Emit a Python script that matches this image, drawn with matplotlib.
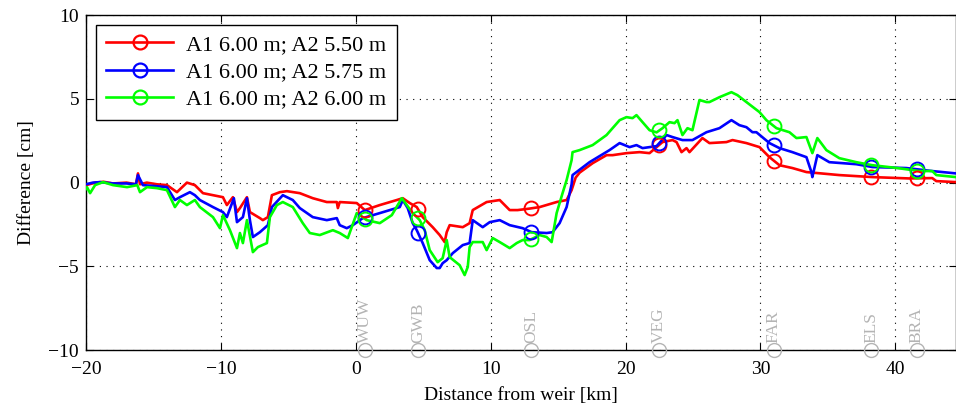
import numpy as np
import matplotlib
matplotlib.use("Agg")
import matplotlib.pyplot as plt

plt.rcParams['font.family'] = ['Liberation Serif', 'DejaVu Serif']

# ---- data (distance from weir [km], difference [cm]) ----
red_km = [-20.0, -19.3, -18.7, -18.0, -17.0, -16.3, -16.15, -16.0, -15.5, -14.74, -14.0, -13.26,
          -12.52, -11.93, -11.33, -10.59, -9.85, -9.56, -9.11, -8.81, -8.59, -8.07, -7.85, -7.11,
          -6.89, -6.52, -6.22, -5.63, -5.11, -4.15, -3.19, -2.15, -1.41, -1.33, -1.19, 0.07, 0.67,
          1.78, 3.04, 3.48, 4.0, 4.52, 4.96, 5.7, 6.22, 6.59, 6.74, 6.96, 7.93, 8.44, 8.67, 9.7,
          10.67, 11.41, 12.0, 12.89, 13.63, 14.89, 15.63, 16.0, 16.3, 16.6, 17.56, 18.59, 19.04,
          20.07, 21.04, 21.78, 22.74, 23.48, 23.78, 24.15, 24.52, 24.74, 25.7, 26.22, 27.48, 27.93,
          28.96, 29.93, 30.67, 31.41, 32.37, 33.41, 35.85, 38.3, 41.0, 42.74, 43.04, 44.5]
red_cm = [-0.15, 0.0, 0.05, -0.05, 0.0, -0.1, 0.55, -0.1, 0.0, -0.1, -0.15, -0.57,
          0.0, -0.15, -0.63, -0.75, -0.87, -1.34, -0.87, -1.76, -1.52, -0.87, -1.76, -2.12,
          -2.24, -2.06, -0.75, -0.57, -0.51, -0.63, -0.93, -1.16, -1.16, -1.52, -1.16, -1.22, -1.64,
          -1.34, -1.04, -0.93, -1.22, -1.46, -2.06, -2.66, -3.13, -3.55, -2.96, -2.54, -2.66, -2.42, -1.64, -1.16,
          -1.04, -1.64, -1.64, -1.55, -1.46, -1.16, -1.04, -0.45, 0.3, 0.6, 1.16, 1.64, 1.64,
          1.76, 1.82, 1.76, 2.42, 2.54, 2.42, 1.82, 2.06, 1.82, 2.66, 2.36, 2.42, 2.54,
          2.36, 2.12, 1.52, 1.04, 0.87, 0.63, 0.45, 0.33, 0.25, 0.27, 0.09, 0.03]

blue_km = [-20.0, -19.5, -18.96, -18.0, -17.0, -16.3, -16.15, -15.78, -15.0, -14.0, -13.41, -13.04,
           -12.3, -11.93, -11.56, -10.59, -9.85, -9.56, -9.04, -8.81, -8.37, -8.07, -7.85, -7.63,
           -7.11, -6.52, -6.22, -5.41, -4.67, -4.15, -3.19, -2.15, -1.41, -1.19, -0.67, -0.22, 0.52,
           1.78, 3.26, 3.48, 3.85, 4.22, 4.52, 4.96, 5.48, 6.0, 6.22, 6.44, 6.74, 7.19, 7.93, 8.44,
           8.67, 9.41, 9.93, 10.67, 11.41, 12.37, 13.04, 14.15, 14.59, 15.11, 15.63, 16.0, 16.07,
           17.33, 18.81, 19.56, 20.3, 20.81, 21.26, 22.3, 23.04, 23.48, 24.22, 24.96, 26.0, 26.96,
           27.85, 28.44, 28.96, 29.41, 29.7, 30.67, 31.41, 32.37, 33.41, 33.78, 33.85, 34.22, 35.11,
           37.11, 38.3, 40.81, 42.74, 44.5]
blue_cm = [-0.1, 0.0, 0.03, -0.05, -0.05, -0.1, 0.45, -0.15, -0.2, -0.27, -1.04, -0.87,
           -0.57, -0.75, -1.04, -1.46, -1.76, -2.06, -0.93, -2.36, -2.06, -0.93, -2.24, -3.25,
           -2.96, -2.54, -1.46, -0.75, -1.04, -1.52, -2.06, -2.24, -2.12, -2.54, -2.72, -2.54, -2.12,
           -1.82, -1.46, -1.04, -1.52, -2.42, -2.84, -3.61, -4.63, -5.10, -5.10, -4.81, -4.63, -4.21, -3.73, -3.61,
           -2.24, -2.66, -2.36, -2.24, -2.54, -2.72, -2.96, -3.01, -2.96, -2.42, -1.46, -0.1, 0.45,
           1.22, 1.94, 2.36, 2.12, 2.24, 2.06, 2.18, 2.84, 2.72, 2.54, 2.54, 3.01, 3.25,
           3.73, 3.43, 3.31, 3.01, 3.01, 2.36, 2.06, 1.82, 1.52, 0.63, 0.33, 1.64, 1.22,
           1.10, 0.93, 0.87, 0.69, 0.55]

green_km = [-20.07, -19.93, -19.7, -19.33, -18.74, -18.0, -16.96, -16.2, -16.0, -15.48, -14.74, -14.0,
            -13.41, -13.04, -12.52, -11.93, -11.56, -10.59, -10.07, -9.85, -9.33, -8.81, -8.59, -8.37,
            -8.07, -7.63, -7.26, -6.59, -6.37, -5.85, -5.41, -4.67, -3.93, -3.41, -2.67, -1.7, -1.19,
            -0.59, 0.07, 0.81, 1.78, 2.67, 3.41, 3.78, 4.22, 4.74, 5.11, 5.48, 6.07, 6.44, 6.74, 6.96,
            7.7, 8.07, 8.3, 8.44, 8.67, 9.41, 9.7, 10.15, 10.67, 11.41, 11.93, 12.37, 12.89, 13.63,
            14.15, 14.52, 14.89, 15.33, 15.63, 16.0, 16.07, 16.59, 17.56, 18.59, 19.56, 20.07, 20.52,
            20.81, 21.26, 21.78, 22.3, 22.74, 23.26, 23.63, 23.85, 24.22, 24.59, 24.96, 25.48, 26.0,
            26.22, 26.96, 27.85, 28.3, 28.96, 29.93, 30.44, 31.19, 32.15, 32.67, 33.41, 33.85, 34.22,
            34.89, 35.85, 37.11, 38.3, 40.15, 41.78, 42.74, 43.04, 44.5]
green_cm = [-0.45, -0.27, -0.63, -0.15, 0.03, -0.15, -0.27, -0.15, -0.57, -0.27, -0.33, -0.45,
            -1.46, -1.04, -1.34, -1.04, -1.46, -2.06, -2.72, -1.94, -2.84, -3.91, -3.01, -3.61,
            -2.24, -4.15, -3.85, -3.61, -2.06, -1.34, -1.16, -1.46, -2.42, -3.01, -3.13, -2.84, -3.01,
            -3.31, -1.82, -2.24, -2.42, -1.94, -0.93, -1.34, -1.82, -2.24, -2.84, -4.03, -4.75, -4.51, -3.43, -4.45,
            -4.93, -5.52, -5.04, -3.85, -3.55, -3.55, -4.03, -3.31, -3.55, -3.91, -3.61, -3.43, -3.43, -3.13,
            -3.25, -3.55, -1.82, -0.63, 0.15, 1.34, 1.82, 1.94, 2.24, 2.84, 3.73, 3.91, 3.85,
            4.03, 3.61, 3.13, 3.0, 3.25, 3.61, 3.55, 3.73, 2.84, 3.25, 3.13, 4.93, 4.81,
            4.81, 5.10, 5.40, 5.22, 4.81, 4.21, 3.73, 3.25, 3.01, 2.66, 2.72, 1.76, 2.66,
            1.94, 1.46, 1.22, 1.04, 0.87, 0.69, 0.69, 0.45, 0.33]

series_labels = ['A1 6.00 m; A2 5.50 m', 'A1 6.00 m; A2 5.75 m', 'A1 6.00 m; A2 6.00 m']
series_colors = ['#ff0000', '#0000ff', '#00ff00']

station_names = ['WUW', 'GWB', 'OSL', 'VEG', 'FAR', 'ELS', 'BRA']
station_km = [0.7, 4.6, 13.0, 22.5, 31.0, 38.2, 41.6]

xticks = [-20, -10, 0, 10, 20, 30, 40]
yticks = [-10, -5, 0, 5, 10]

# ---- figure ----
fig = plt.figure(figsize=(9.56, 4.09), dpi=100)
ax = fig.add_axes([0.090, 0.144, 0.910, 0.819])

series = [(red_km, red_cm), (blue_km, blue_cm), (green_km, green_cm)]
for (xk, yc), lab, col in zip(series, series_labels, series_colors):
    ax.plot(xk, yc, color=col, lw=1.9, zorder=3)
    my = np.interp(station_km, xk, yc)
    ax.plot(station_km, my, ls='none', marker='o', ms=10, mfc='none', mec=col, mew=1.4, zorder=4)
    ax.plot([], [], color=col, lw=1.9, marker='o', ms=10, mfc='none', mec=col, mew=1.6, label=lab)

# station markers along the bottom axis
gray = '#b4b4b4'
for name, km in zip(station_names, station_km):
    ax.plot([km], [-10], ls='none', marker='o', ms=10, mfc='none', mec=gray, mew=1.0,
            clip_on=False, zorder=5)
    ax.text(km, -9.6, name, rotation=90, color=gray, fontsize=12.5, ha='center', va='bottom',
            zorder=5)

ax.set_xlim(-20, 44.5)
ax.set_ylim(-10, 10)
ax.set_xticks(xticks)
ax.set_yticks(yticks)
ax.set_xticklabels([str(t).replace('-', '\u2212') for t in xticks])
ax.set_yticklabels([str(t).replace('-', '\u2212') for t in yticks])
ax.tick_params(direction='in', top=True, right=True, labelsize=14, length=5, width=0.8)
ax.tick_params(axis='x', pad=8)
ax.tick_params(axis='y', pad=5)
ax.grid(True, ls=(0, (1, 5)), color='black', lw=0.8)
for s in ax.spines.values():
    s.set_linewidth(1.0)

ax.set_xlabel('Distance from weir [km]', fontsize=14, labelpad=6)
ax.set_ylabel('Difference [cm]', fontsize=14, labelpad=10)

leg = ax.legend(loc='upper left', bbox_to_anchor=(0.012, 0.972), fontsize=16, frameon=True,
                fancybox=False, edgecolor='black', framealpha=1, handlelength=3.0,
                borderpad=0.45, labelspacing=0.3, handletextpad=0.6, borderaxespad=0.0)
leg.get_frame().set_linewidth(1.0)

fig.savefig('out.png', dpi=100)
